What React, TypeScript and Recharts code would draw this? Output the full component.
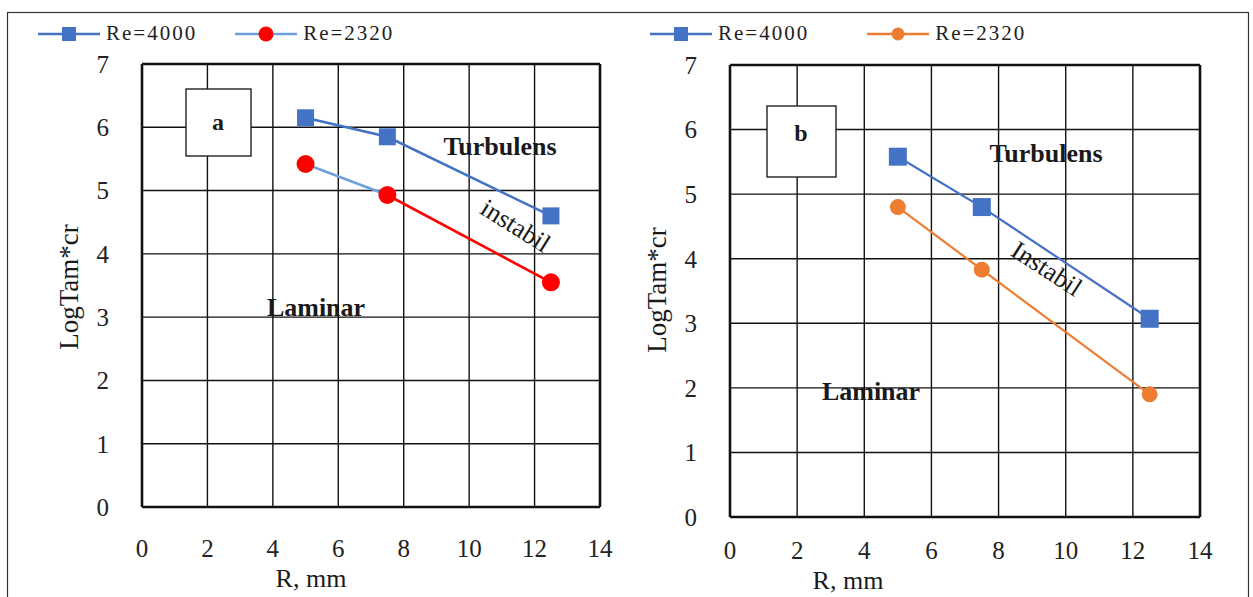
import React from "react";
import { LineChart, Line, XAxis, YAxis, CartesianGrid, Legend, ReferenceLine } from "recharts";

const R_MM = [5, 7.5, 12.5];
const A_RE4000 = [6.15, 5.85, 4.6];
const A_RE2320 = [5.42, 4.93, 3.55];
const B_RE4000 = [5.58, 4.8, 3.07];
const B_RE2320 = [4.8, 3.83, 1.9];
const X_TICKS = [0, 2, 4, 6, 8, 10, 12, 14];
const Y_TICKS = [0, 1, 2, 3, 4, 5, 6, 7];
const SERIES_NAMES = ["Re=4000", "Re=2320"];

const BLUE = "#4472C4";
const LIGHT_BLUE = "#6FA0DC";
const RED = "#FF0000";
const ORANGE = "#ED7D31";
const FONT = "Liberation Serif";

const toRows = (hi: number[], lo: number[]) =>
  R_MM.map((r, i) => ({ r, re4000: hi[i], re2320: lo[i] }));

// where the first segment of panel a's Re=2320 line ends, as a fraction of the line's width
const SPLIT = (R_MM[1] - R_MM[0]) / (R_MM[2] - R_MM[0]);

const squareDot = (size: number, color: string) => (props: any) => {
  const { cx, cy, index } = props;
  if (cx == null || cy == null) return <g key={`s${index}`} />;
  return <rect key={`s${index}`} x={cx - size / 2} y={cy - size / 2} width={size} height={size} fill={color} />;
};

const circleDot = (r: number, color: string) => (props: any) => {
  const { cx, cy, index } = props;
  if (cx == null || cy == null) return <g key={`c${index}`} />;
  return <circle key={`c${index}`} cx={cx} cy={cy} r={r} fill={color} />;
};

type LegendItem = { line: string; marker: string; shape: "square" | "circle"; size: number };

const makeLegend = (items: Record<string, LegendItem>, gap: number) => (props: any) => {
  const payload = [...(props.payload || [])].sort(
    (a: any, b: any) => SERIES_NAMES.indexOf(a.value) - SERIES_NAMES.indexOf(b.value)
  );
  return (
    <div style={{ display: "flex", alignItems: "center", fontFamily: FONT, fontSize: 21, color: "#222", letterSpacing: 2 }}>
      {payload.map((p: any) => {
        const it = items[p.dataKey];
        return (
          <div key={p.value} style={{ display: "flex", alignItems: "center", marginRight: gap }}>
            <svg width={62} height={20} style={{ marginRight: 6 }}>
              <line x1={0} y1={10} x2={62} y2={10} stroke={it.line} strokeWidth={2.5} />
              {it.shape === "square" ? (
                <rect x={31 - it.size / 2} y={10 - it.size / 2} width={it.size} height={it.size} fill={it.marker} />
              ) : (
                <circle cx={31} cy={10} r={it.size / 2} fill={it.marker} />
              )}
            </svg>
            <span style={{ fontFamily: FONT }}>{p.value}</span>
          </div>
        );
      })}
    </div>
  );
};

const tickStyle = { fontFamily: FONT, fontSize: 25, fill: "#222" };

type PanelProps = {
  left: number;
  width: number;
  margin: { top: number; right: number; bottom: number; left: number };
  rows: { r: number; re4000: number; re2320: number }[];
  lowStroke: string;
  lowDot: (p: any) => React.ReactElement;
  hiDot: (p: any) => React.ReactElement;
  strokeWidth: number;
  legend: (p: any) => React.ReactElement;
  legendPos: { top: number; left: number };
  xTickMargin: number;
  defs?: React.ReactNode;
};

function Panel(p: PanelProps) {
  return (
    <div style={{ position: "absolute", left: p.left, top: 0, fontFamily: FONT }}>
      <LineChart width={p.width} height={597} data={p.rows} margin={p.margin} style={{ fontFamily: FONT }}>
        {p.defs}
        <CartesianGrid stroke="#111" strokeWidth={1.4} horizontal vertical />
        <XAxis
          type="number"
          dataKey="r"
          domain={[0, 14]}
          ticks={X_TICKS}
          height={50}
          tickSize={0}
          tickMargin={p.xTickMargin}
          tick={tickStyle}
          axisLine={{ stroke: "#111", strokeWidth: 2.6 }}
          tickLine={false}
        />
        <YAxis
          type="number"
          domain={[0, 7]}
          ticks={Y_TICKS}
          width={60}
          tickSize={0}
          tickMargin={33}
          tick={tickStyle}
          axisLine={{ stroke: "#111", strokeWidth: 2.6 }}
          tickLine={false}
        />
        <ReferenceLine y={7} stroke="#111" strokeWidth={2.6} />
        <ReferenceLine x={14} stroke="#111" strokeWidth={2.6} />
        <Legend
          layout="horizontal"
          verticalAlign="middle"
          align="center"
          content={p.legend}
          wrapperStyle={{ position: "absolute", top: p.legendPos.top, left: p.legendPos.left, width: "auto" }}
        />
        <Line
          name={SERIES_NAMES[0]}
          dataKey="re4000"
          stroke={BLUE}
          strokeWidth={p.strokeWidth}
          dot={p.hiDot}
          activeDot={false}
          isAnimationActive={false}
        />
        <Line
          name={SERIES_NAMES[1]}
          dataKey="re2320"
          stroke={p.lowStroke}
          strokeWidth={p.strokeWidth}
          dot={p.lowDot}
          activeDot={false}
          isAnimationActive={false}
        />
      </LineChart>
    </div>
  );
}

const annText = { fontFamily: FONT, fill: "#1a1a1a" } as const;

export default function App() {
  const legendA = makeLegend(
    {
      re4000: { line: BLUE, marker: BLUE, shape: "square", size: 14 },
      re2320: { line: LIGHT_BLUE, marker: RED, shape: "circle", size: 15 },
    },
    38
  );
  const legendB = makeLegend(
    {
      re4000: { line: BLUE, marker: BLUE, shape: "square", size: 14 },
      re2320: { line: ORANGE, marker: ORANGE, shape: "circle", size: 13 },
    },
    58
  );

  return (
    <div style={{ position: "absolute", left: 0, top: 0, width: 1253, height: 597, background: "#fff", overflow: "hidden", fontFamily: FONT }}>
      <Panel
        left={0}
        width={630}
        margin={{ top: 64, right: 30, bottom: 40, left: 82 }}
        rows={toRows(A_RE4000, A_RE2320)}
        lowStroke="url(#re2320a)"
        lowDot={circleDot(9, RED)}
        hiDot={squareDot(17, BLUE)}
        strokeWidth={2.6}
        legend={legendA}
        legendPos={{ top: 21, left: 38 }}
        xTickMargin={32}
        defs={
          <defs>
            <linearGradient id="re2320a" x1="0" y1="0" x2="1" y2="0">
              <stop offset={0} stopColor={LIGHT_BLUE} />
              <stop offset={SPLIT} stopColor={LIGHT_BLUE} />
              <stop offset={SPLIT} stopColor={RED} />
              <stop offset={1} stopColor={RED} />
            </linearGradient>
          </defs>
        }
      />
      <Panel
        left={625}
        width={628}
        margin={{ top: 65, right: 53, bottom: 30, left: 45 }}
        rows={toRows(B_RE4000, B_RE2320)}
        lowStroke={ORANGE}
        lowDot={circleDot(8, ORANGE)}
        hiDot={squareDot(18, BLUE)}
        strokeWidth={2.2}
        legend={legendB}
        legendPos={{ top: 21, left: 25 }}
        xTickMargin={24}
      />
      <svg width={1253} height={597} style={{ position: "absolute", left: 0, top: 0, pointerEvents: "none" }}>
        <rect x={7.5} y={12.5} width={1241} height={600} fill="none" stroke="#333" strokeWidth={1.2} />

        {/* panel a */}
        <text {...annText} fontSize={27} transform="translate(78,287) rotate(-90)" textAnchor="middle">LogTam*cr</text>
        <text {...annText} fontSize={26} x={311} y={587} textAnchor="middle">R, mm</text>
        <rect x={186} y={89} width={65} height={67} fill="#fff" stroke="#222" strokeWidth={1.4} />
        <text {...annText} fontSize={24} fontWeight="bold" x={218} y={130} textAnchor="middle">a</text>
        <text {...annText} fontSize={26} fontWeight="bold" x={500} y={155} textAnchor="middle">Turbulens</text>
        <text {...annText} fontSize={26} transform="translate(511,233) rotate(32)" textAnchor="middle">instabil</text>
        <text {...annText} fontSize={26} fontWeight="bold" x={316} y={316} textAnchor="middle">Laminar</text>

        {/* panel b */}
        <text {...annText} fontSize={27} transform="translate(666,290) rotate(-90)" textAnchor="middle">LogTam*cr</text>
        <text {...annText} fontSize={26} x={848} y={589} textAnchor="middle">R, mm</text>
        <rect x={767} y={106} width={69} height={71} fill="#fff" stroke="#222" strokeWidth={1.4} />
        <text {...annText} fontSize={24} fontWeight="bold" x={801} y={141} textAnchor="middle">b</text>
        <text {...annText} fontSize={26} fontWeight="bold" x={1046} y={162} textAnchor="middle">Turbulens</text>
        <text {...annText} fontSize={26} transform="translate(1042,276) rotate(33)" textAnchor="middle">Instabil</text>
        <text {...annText} fontSize={26} fontWeight="bold" x={871} y={400} textAnchor="middle">Laminar</text>
      </svg>
    </div>
  );
}
